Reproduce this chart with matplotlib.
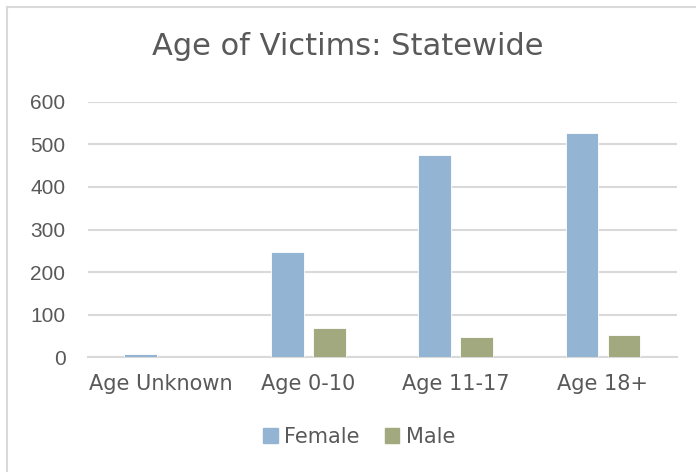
import matplotlib
matplotlib.use("Agg")
import matplotlib.pyplot as plt
import numpy as np
from matplotlib.patches import Rectangle
from matplotlib.lines import Line2D

# data
categories = ["Age Unknown", "Age 0-10", "Age 11-17", "Age 18+"]
female = [8, 247, 474, 527]
male = [0, 69, 47, 52]
y_ticks = [0, 100, 200, 300, 400, 500, 600]

female_color = "#94b4d4"
male_color = "#a3a97f"
text_color = "#595959"
grid_color = "#d9d9d9"
narrow = ["Liberation Sans Narrow", "DejaVu Sans"]

fig = plt.figure(figsize=(6.96, 4.72), dpi=100)
ax = fig.add_axes([0.126, 0.243, 0.846, 0.5415])

x = np.arange(len(categories))
w = 0.222
off = 0.143
ax.bar(x - off, female, width=w, color=female_color, edgecolor="white", linewidth=0.6, label="Female", zorder=3)
ax.bar(x + off, male, width=w, color=male_color, edgecolor="white", linewidth=0.6, label="Male", zorder=3)

ax.set_xlim(-0.5, len(categories) - 0.5)
ax.set_ylim(0, 600)
ax.set_yticks(y_ticks)
ax.set_yticklabels([str(v) for v in y_ticks], fontsize=15, color=text_color, family="Liberation Sans")
ax.set_xticks(x)
ax.set_xticklabels(categories, fontsize=15, color=text_color, family=narrow)
ax.tick_params(axis="y", length=0, pad=16)
ax.tick_params(axis="x", length=0, pad=12)
ax.grid(axis="y", color=grid_color, linewidth=1.5, zorder=0)
for s in ["top", "right", "left"]:
    ax.spines[s].set_visible(False)
ax.spines["bottom"].set_color(grid_color)
ax.spines["bottom"].set_linewidth(1.5)

fig.text(0.5, 0.9025, "Age of Victims: Statewide", ha="center", va="center",
         fontsize=22, color=text_color, family=narrow)

handles = [Rectangle((0, 0), 1, 1, color=female_color), Rectangle((0, 0), 1, 1, color=male_color)]
fig.legend(handles, ["Female", "Male"], loc="center", bbox_to_anchor=(0.516, 0.074), ncol=2,
           frameon=False, prop={"family": narrow, "size": 15}, labelcolor=text_color,
           handlelength=0.7, handleheight=0.7, handletextpad=0.3, columnspacing=1.2)

# partial frame at top and left like the cropped source
fig.add_artist(Line2D([6.5 / 696, 6.5 / 696], [0, 1 - 6.5 / 472], transform=fig.transFigure, color="#d9d9d9", linewidth=1.5))
fig.add_artist(Line2D([6.5 / 696, 1], [1 - 6.5 / 472, 1 - 6.5 / 472], transform=fig.transFigure, color="#d9d9d9", linewidth=1.5))

fig.savefig("out.png", dpi=100)
